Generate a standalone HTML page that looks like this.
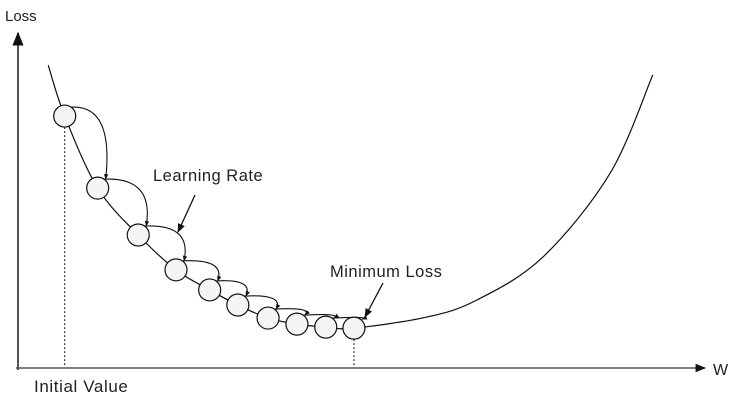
<!DOCTYPE html>
<html><head><meta charset="utf-8"><style>
html,body{margin:0;padding:0;background:#fff}
svg{display:block;font-family:"Liberation Sans",sans-serif}
</style></head><body>
<svg id="chart" width="738" height="401" viewBox="0 0 738 401">
<defs>
<marker id="ah" viewBox="0 0 10 10" refX="9" refY="5" markerWidth="7" markerHeight="7" orient="auto"><path d="M0,1 L10,5 L0,9 z" fill="#111"/></marker>
<marker id="ahs" viewBox="0 0 10 10" refX="9" refY="5" markerWidth="5" markerHeight="5" orient="auto"><path d="M0,1 L10,5 L0,9 z" fill="#111"/></marker>
</defs>
<line x1="18" y1="370" x2="18" y2="33" stroke="#555" stroke-width="2" marker-end="url(#ah)"/>
<line x1="16" y1="368" x2="705" y2="368" stroke="#555" stroke-width="1.5" marker-end="url(#ah)"/>
<text x="5" y="21" font-size="15" fill="#222">Loss</text>
<text x="713" y="375" font-size="16" fill="#222">W</text>
<text x="34" y="392" font-size="17" letter-spacing="0.6" fill="#222">Initial Value</text>
<text x="153" y="181" font-size="16.5" letter-spacing="0.5" fill="#222">Learning Rate</text>
<text x="330" y="277" font-size="16.5" letter-spacing="0.5" fill="#222">Minimum Loss</text>
<line x1="195" y1="195" x2="178" y2="232" stroke="#111" stroke-width="1.3" marker-end="url(#ah)"/>
<line x1="383" y1="283" x2="365" y2="317" stroke="#111" stroke-width="1.3" marker-end="url(#ah)"/>
<g id="plot"></g>
</svg>
<script>
const curveW = [4.4, 6.8, 11.6, 17.5, 23.0, 27.9, 32.0, 36.4, 40.6, 44.8, 48.9, 59.5, 66.8, 76.4, 86.2, 92.4];
const curveLoss = [90.4, 75.2, 53.7, 39.7, 29.3, 23.3, 18.8, 14.9, 13.1, 12.2, 11.9, 15.2, 20.3, 33.1, 58.2, 87.5];
const stepW = [6.8, 11.6, 17.5, 23.0, 27.9, 32.0, 36.4, 40.6, 44.8, 48.9];
const stepLoss = [75.2, 53.7, 39.7, 29.3, 23.3, 18.8, 14.9, 13.1, 12.2, 11.9];
const NS = "http://www.w3.org/2000/svg";
function xs(w){return 18 + w*6.87;}
function ys(l){return 368 - l*3.35;}
const g = document.getElementById('plot');
function mk(t,a){const e=document.createElementNS(NS,t);for(const k in a)e.setAttribute(k,a[k]);g.appendChild(e);return e;}
const P = curveW.map((w,i)=>[xs(w),ys(curveLoss[i])]);
let d = `M${P[0][0]},${P[0][1]}`;
for(let i=0;i<P.length-1;i++){
  const p0=P[Math.max(i-1,0)],p1=P[i],p2=P[i+1],p3=P[Math.min(i+2,P.length-1)];
  d+=` C${p1[0]+(p2[0]-p0[0])/6},${p1[1]+(p2[1]-p0[1])/6} ${p2[0]-(p3[0]-p1[0])/6},${p2[1]-(p3[1]-p1[1])/6} ${p2[0]},${p2[1]}`;
}
const curve = mk('path',{d:d,fill:'none',stroke:'#111','stroke-width':1.2});


[0, stepW.length-1].forEach((i,k)=>{
  const l = mk('line',{x1:xs(stepW[i]),y1:ys(stepLoss[i])+11,x2:xs(stepW[i]),y2:367,stroke:'#111','stroke-width':1,'stroke-dasharray':'2,2'});
  
  
});
for(let i=0;i<stepW.length-1;i++){
  const x1=xs(stepW[i])+7,y1=ys(stepLoss[i])-9,x2=xs(stepW[i+1])+8,y2=ys(stepLoss[i+1])-9;
  const cx=x2+8, cy=y1-2;
  const a = mk('path',{d:`M${x1},${y1} Q${cx},${cy} ${x2},${y2}`,fill:'none',stroke:'#111','stroke-width':1.1,'marker-end':'url(#ahs)'});
  
  
}
for(let i=0;i<stepW.length;i++){
  const c = mk('circle',{cx:xs(stepW[i]),cy:ys(stepLoss[i]),r:11,fill:'#f4f4f4',stroke:'#111','stroke-width':1.2});
  
  
}
</script>
</body></html>
